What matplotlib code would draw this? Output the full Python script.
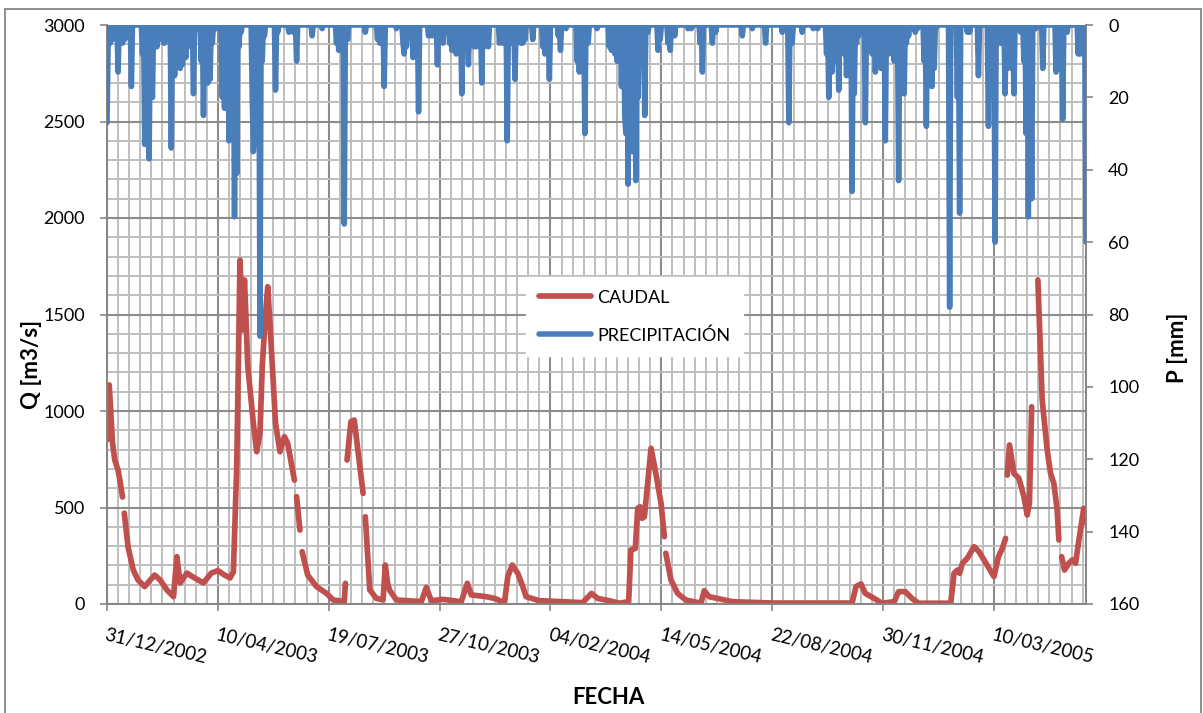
import numpy as np
import matplotlib
matplotlib.use("Agg")
import matplotlib.pyplot as plt
import matplotlib.dates as mdates
from matplotlib.ticker import FixedLocator, MultipleLocator
from matplotlib.patches import Rectangle
from datetime import datetime

plt.rcParams['font.family'] = ['Lato', 'DejaVu Sans']

# ---------------- data ----------------
start_date = datetime(2002, 12, 31)
n_days = 884

# CAUDAL (Q, m3/s): day offset from start, value (nan = missing data)
q_day = [0, 2, 5, 7, 10, 12, 14, 14.8, 15.6, 19, 23.7, 28, 34, 39, 43, 48, 54, 60, 63, 66,
         72, 79, 87, 94, 100, 106, 111, 114, 117, 120, 122, 124, 127, 132, 135, 138, 140,
         143, 145, 148, 152, 156, 160, 163, 169, 170, 171, 174, 175, 176, 181, 189, 198,
         204, 214, 215, 215.8, 216.5, 220, 223, 231, 232, 233, 237, 243, 249, 251, 253, 255,
         261, 283.5, 288, 292.5, 303, 319.5, 325, 328.5, 342, 349.5, 358.5, 361.5, 365.5,
         370.5, 375, 378, 390, 411, 429, 437, 442.5, 453, 462, 470.5, 472.5, 476.5, 478.7,
         480.8, 482.6, 484.7, 490.7, 495, 499.7, 502.7, 503.4, 504, 508.7, 514.7, 522, 535.7,
         538.7, 543, 553, 564, 600, 672, 675.5, 680, 684, 692, 699, 710, 714, 720, 726, 732,
         761, 764, 767, 769, 771.5, 776, 782, 786.5, 800, 804, 807.5, 810.5, 811.2, 812, 814,
         818, 822.5, 827, 830, 832, 834, 836.8, 839.6, 842, 843.5, 848, 851, 854, 857, 858.5,
         859.7, 861, 863.6, 867.5, 870.5, 873.6, 876.6, 881, 883]
q_val = [850, 1135, 834, 746, 694, 627, 554, np.nan, 471, 295, 176, 124, 90, 124, 150, 124, 73, 38, 245, 109,
         160, 135, 109, 160, 173, 150, 135, 167, 711, 1782, 1420, 1679, 1230, 937, 789, 886, 1230,
         1506, 1644, 1351, 937, 789, 867, 832, 642, np.nan, 556, 383, np.nan, 271, 150, 90, 55,
         21, 12, 107, np.nan, 746, 945, 953, 573, np.nan, 452, 73, 29, 21, 202, 110, 70,
         21, 12, 86, 17, 24, 12, 107, 47, 38, 29, 7, 142, 202,
         159, 90, 38, 17, 12, 7, 55, 29, 17, 4, 12, 280, 288, 496,
         504, 444, 452, 807, 677, 522, 349, np.nan, 263, 124, 55, 21, 4,
         69, 38, 26, 12, 5, 5, 90, 104, 55, 29, 4, 12, 64, 64, 29, 4,
         4, 159, 176, 159, 211, 237, 297, 271, 142, 245, 288, 340, np.nan, 668, 824,
         677, 651, 556, 461, 522, 1022, np.nan, 1679, 1299, 1057, 798, 677, 625, 487, 332,
         np.nan, 245, 176, 211, 228, 211, 332, 496, 420]

# PRECIPITACION (P, mm): rainy days (all other days 0 mm)
p_day = [0, 1, 3, 5, 10, 12, 14, 16, 22,
         32, 34, 36, 38, 40, 41, 43, 45, 47, 49,
         51, 52, 58, 61, 63, 64, 66, 68, 71, 73, 78,
         82, 85, 87, 89, 91, 93, 95, 99,
         104, 106, 108, 110, 112, 115, 117, 119, 121,
         131, 132, 133, 138, 140, 142,
         152, 154, 164, 168, 171, 185, 194,
         207, 209, 214, 217, 233, 244, 246, 250, 261,
         267, 268, 270, 276, 281, 290, 293, 298, 303,
         309, 311, 313, 315, 320, 324, 326, 331, 333, 335, 338,
         340, 342, 344, 354, 357, 361, 364, 368, 373, 375, 377,
         384, 393, 395, 399, 407, 409, 414, 424, 426, 431, 434,
         442, 453, 455, 458, 460, 464, 467, 468, 470, 472, 474, 477, 479, 485, 488,
         497, 499, 506, 508, 512, 524, 527, 535, 537, 546, 549,
         573, 582, 594, 609, 615, 618,
         627, 637, 641, 649, 651, 654, 658, 660, 665, 667, 669,
         672, 674, 676, 678, 684, 687, 690, 693, 696, 698, 700, 702, 705,
         710, 712, 714, 719, 721, 723, 729, 731, 737, 739, 744, 746, 747,
         760, 767, 769, 776, 778, 786, 795, 801, 805, 807,
         810, 812, 816, 818, 824, 827, 829, 831, 834, 838,
         844, 856, 859, 862, 866, 876, 878, 883]
p_mm = [27, 5, 5, 4, 13, 3, 5, 4, 17,
        8, 33, 18, 37, 15, 20, 5, 6, 4, 3,
        5, 5, 34, 14, 8, 11, 12, 11, 9, 6, 19,
        1, 10, 25, 8, 16, 15, 5, 1,
        20, 23, 15, 32, 25, 53, 41, 6, 2,
        20, 35, 30, 86, 10, 3,
        18, 2, 2, 2, 10, 3, 1,
        5, 7, 55, 4, 2, 4, 5, 17, 1,
        5, 8, 6, 9, 24, 3, 3, 11, 5,
        5, 7, 6, 8, 19, 6, 11, 6, 6, 5, 16,
        6, 5, 6, 5, 5, 32, 5, 15, 5, 5, 4,
        4, 6, 8, 15, 3, 7, 1, 10, 13, 30, 5,
        1, 6, 7, 8, 10, 17, 25, 30, 44, 30, 35, 43, 20, 25, 2,
        7, 4, 5, 7, 3, 1, 1, 5, 13, 5, 2,
        3, 1, 5, 2, 27, 5,
        2, 1, 1, 8, 20, 13, 10, 18, 8, 14, 12,
        46, 19, 5, 3, 27, 5, 8, 13, 10, 12, 8, 32, 8,
        10, 9, 43, 19, 5, 3, 2, 1, 10, 28, 17, 12, 2,
        78, 20, 52, 2, 2, 14, 28, 60, 5, 5,
        19, 12, 12, 19, 2, 10, 30, 53, 48, 1,
        12, 13, 12, 26, 2, 8, 8, 60]

series_labels = ['CAUDAL', 'PRECIPITACIÓN']

# ---------------- figure ----------------
W, H = 1203, 713
fig = plt.figure(figsize=(W / 100, H / 100), dpi=100)
L, R, T, B = 107, 1086, 25, 604
ax = fig.add_axes([L / W, 1 - B / H, (R - L) / W, (B - T) / H])
ax2 = ax.twinx()

base = mdates.date2num(start_date)
qx = base + np.asarray(q_day, dtype=float)
p_daily = np.zeros(n_days)
p_daily[np.asarray(p_day)] = p_mm
px = base + np.arange(n_days)

red = '#C0504D'
blue = '#4A7EBB'
grid_major = '#8C8C8C'
grid_minor = '#BEBEBE'
axis_col = '#868686'

l1, = ax.plot(qx, q_val, color=red, lw=4.1, solid_capstyle='round', solid_joinstyle='round',
              label=series_labels[0], zorder=3)
l2, = ax2.plot(px, p_daily, color=blue, lw=4.0, solid_capstyle='round', solid_joinstyle='round',
               label=series_labels[1], zorder=3)

ax.set_xlim(base, base + n_days - 1)
ax.set_ylim(0, 3000)
ax2.set_ylim(160, 0)

ax.xaxis.set_major_locator(FixedLocator(base + np.arange(0, n_days, 100)))
ax.xaxis.set_minor_locator(FixedLocator(base + np.arange(0, n_days, 10)))
ax.xaxis.set_major_formatter(mdates.DateFormatter('%d/%m/%Y'))
ax.yaxis.set_major_locator(MultipleLocator(500))
ax.yaxis.set_minor_locator(MultipleLocator(100))
ax2.yaxis.set_major_locator(MultipleLocator(20))

ax.grid(True, which='minor', color=grid_minor, lw=1.4, zorder=0)
ax.grid(True, which='major', color=grid_major, lw=1.5, zorder=0)
ax.set_axisbelow(True)

for a in (ax, ax2):
    for s in a.spines.values():
        s.set_color(axis_col)
        s.set_linewidth(1.3)
    a.spines['top'].set_visible(False)

ax.tick_params(axis='y', which='major', length=5, width=1.2, color=axis_col, pad=11,
               labelsize=13, labelcolor='black')
ax.tick_params(axis='y', which='minor', length=0)
ax.tick_params(axis='x', which='major', length=5, width=1.2, color=axis_col, pad=11,
               labelsize=13.5, labelcolor='black')
ax.tick_params(axis='x', which='minor', length=0)
ax2.tick_params(axis='y', which='major', length=5, width=1.2, color=axis_col, pad=11,
                labelsize=13, labelcolor='black')

for lab in ax.get_xticklabels():
    lab.set_rotation(-13)
    lab.set_ha('left')
    lab.set_va('top')
    lab.set_rotation_mode('anchor')

fig.text(32 / W, 1 - 364 / H, 'Q [m3/s]', rotation=90, ha='center', va='center',
         fontsize=16, fontweight='bold')
fig.text(1178 / W, 1 - 348 / H, 'P [mm]', rotation=90, ha='center', va='center',
         fontsize=16, fontweight='bold')
fig.text(608 / W, 1 - 698 / H, 'FECHA', ha='center', va='center',
         fontsize=16, fontweight='bold')

leg = ax2.legend([l1, l2], series_labels, loc='upper left',
                 bbox_to_anchor=(526 / W, 1 - 277 / H), bbox_transform=fig.transFigure,
                 frameon=True, fancybox=False, fontsize=13, handlelength=2.9,
                 handletextpad=0.35, labelspacing=1.2, borderpad=0.7, borderaxespad=0)
leg.get_frame().set_facecolor('white')
leg.get_frame().set_edgecolor('white')
leg.get_frame().set_alpha(1)
leg.set_zorder(10)

fig.patches.append(Rectangle((5 / W, -0.02), (1201 - 5) / W, 1.02 - 9 / H,
                             transform=fig.transFigure, fill=False,
                             edgecolor=axis_col, lw=1.3))

fig.savefig('out.png', dpi=100)
